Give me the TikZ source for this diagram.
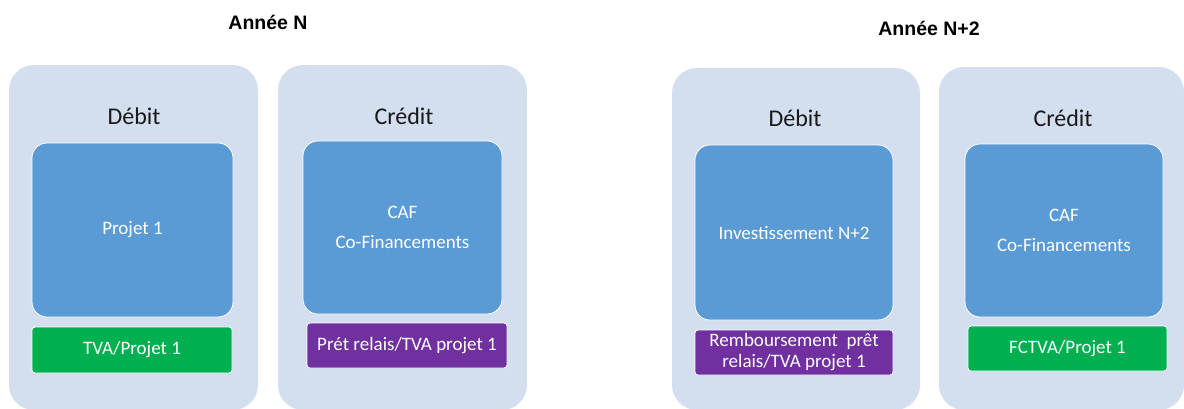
\documentclass[tikz,border=0pt]{standalone}
\usepackage{fontspec}
\setmainfont{Carlito}
\newfontfamily\titlefont{Liberation Sans}
\usetikzlibrary{positioning}
\definecolor{panelbg}{HTML}{D3DEEF}
\definecolor{boxblue}{HTML}{5B9BD5}
\definecolor{boxgreen}{HTML}{00B050}
\definecolor{boxpurple}{HTML}{7030A0}
\tikzset{
	panel/.style={fill=panelbg, rounded corners=25pt, inner sep=0pt, outer sep=0pt,
		minimum width=249pt},
	heading/.style={font=\fontsize{24}{28}\selectfont, text=black!90},
	year/.style={font=\titlefont\bfseries\fontsize{19.5}{22}\selectfont},
	content/.style={draw=white, line width=0.8pt, fill=boxblue, rounded corners=15pt,
		text=white, align=center, font=\fontsize{19}{30}\selectfont,
		minimum width=199pt, minimum height=174pt},
	entry/.style={draw=white, line width=0.8pt, rounded corners=3pt, text=white,
		align=center, font=\fontsize{19}{21}\selectfont,
		minimum width=200pt, minimum height=45pt, inner sep=0pt},
	vat/.style={entry, fill=boxgreen},
	loan/.style={entry, fill=boxpurple},
}
\begin{document}
\begin{tikzpicture}[x=1pt, y=-1pt]
	\useasboundingbox (0,0) rectangle (1184,408);

	% year N
	\node[year] (yearN) at (268,22) {Année N};
	\node[panel, minimum height=345pt] (debitN) at (133.5,237.5) {};
	\node[panel, minimum height=345pt] (creditN) at (402.5,237.5) {};
	\node[heading] (debitNlabel) at (134,116) {Débit};
	\node[heading] (creditNlabel) at (404,116) {Crédit};
	\node[content, minimum width=201pt] (projetN) at (132.5,230) {Projet 1};
	\node[content, minimum height=173pt] (cafN) at (402.5,227.5) {CAF\\Co-Financements};
	\node[vat, minimum height=46pt] (tvaN) at (132,350) {TVA/Projet 1};
	\node[loan] (pretN) at (407,345.5) {Prét relais/TVA projet 1};

	% year N+2
	\node[year] (yearNtwo) at (929,28) {Année N+2};
	\node[panel, minimum width=248pt, minimum height=342pt] (debitNtwo) at (796,239) {};
	\node[panel, minimum width=245pt, minimum height=343pt] (creditNtwo) at (1061.5,238.5) {};
	\node[heading] (debitNtwolabel) at (795,118) {Débit};
	\node[heading] (creditNtwolabel) at (1063,118) {Crédit};
	\node[content, minimum width=198pt, minimum height=175pt] (investNtwo) at (794,232.5) {Investissement N+2};
	\node[content, minimum width=198pt, minimum height=173pt] (cafNtwo) at (1064,230.5) {CAF\\Co-Financements};
	\node[loan, minimum width=198pt] (rembNtwo) at (794,352.5) {Remboursement\ \ prêt\\relais/TVA projet 1};
	\node[vat, minimum width=199pt] (fctvaNtwo) at (1067.5,348.5) {FCTVA/Projet 1};
\end{tikzpicture}
\end{document}
